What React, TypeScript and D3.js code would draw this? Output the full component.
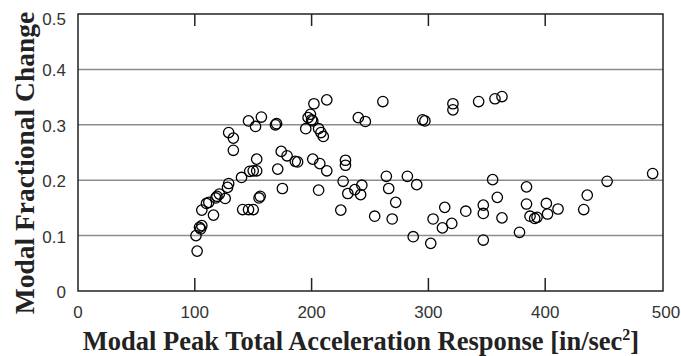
import { useEffect, useRef } from 'react';
import * as d3 from 'd3';

// Modal peak total acceleration [in/sec^2]
const accel: number[] = [
  102, 101, 104, 105, 106, 106, 110, 112, 116, 118, 119, 121, 126, 128, 129,
  129, 133, 133, 140, 141, 146, 150, 147, 150, 153, 153, 146, 152, 157, 155,
  156, 169, 170, 171, 174, 179, 175, 186, 188, 195, 197, 199, 200, 201, 202,
  206, 208, 210, 213, 201, 207, 213, 206, 225,
  227, 229, 229, 231, 237, 243, 242, 240, 246, 261, 254, 264, 266, 269, 272,
  282, 290, 287, 295, 297, 302, 304, 312, 314, 320, 321, 321, 332, 343, 347,
  347, 347, 355, 357, 359, 363, 363, 378, 384, 384, 387, 391, 393, 401, 402,
  411, 433, 436, 453, 492,
];

// Modal fractional change
const fracChange: number[] = [
  0.072, 0.1, 0.115, 0.112, 0.118, 0.146, 0.158, 0.16, 0.137, 0.168, 0.171, 0.175, 0.167, 0.187, 0.194,
  0.286, 0.276, 0.254, 0.205, 0.147, 0.147, 0.147, 0.216, 0.217, 0.217, 0.238, 0.307, 0.297, 0.314, 0.168,
  0.171, 0.3, 0.302, 0.22, 0.252, 0.244, 0.185, 0.234, 0.233, 0.293, 0.313, 0.319, 0.309, 0.307, 0.338,
  0.293, 0.286, 0.279, 0.345, 0.238, 0.23, 0.217, 0.182, 0.146,
  0.198, 0.236, 0.227, 0.176, 0.183, 0.191, 0.174, 0.313, 0.306, 0.342, 0.135, 0.207, 0.185, 0.13, 0.16,
  0.207, 0.192, 0.098, 0.309, 0.307, 0.086, 0.13, 0.114, 0.151, 0.122, 0.338, 0.327, 0.144, 0.342, 0.155,
  0.14, 0.092, 0.201, 0.347, 0.169, 0.351, 0.132, 0.106, 0.188, 0.157, 0.135, 0.131, 0.133, 0.158, 0.139,
  0.148, 0.147, 0.173, 0.198, 0.212,
];

const xTicks = [0, 100, 200, 300, 400, 500];
const yTicks = [0, 0.1, 0.2, 0.3, 0.4, 0.5];

const width = 681;
const height = 356;

export default function App() {
  const svgRef = useRef<SVGSVGElement>(null);

  useEffect(() => {
    if (!svgRef.current) return;
    const svg = d3.select(svgRef.current);
    svg.selectAll('*').remove();

    const left = 78, right = 663, top = 14, bottom = 291;

    const x = d3.scaleLinear().domain([0, 500]).range([left, 662]);
    const y = d3.scaleLinear().domain([0, 0.5]).range([bottom, top]);

    svg.append('rect').attr('width', width).attr('height', height).attr('fill', '#fff');

    // grid lines
    svg.append('g')
      .selectAll('line')
      .data(yTicks.filter(t => t > 0 && t < 0.5))
      .enter()
      .append('line')
      .attr('x1', left)
      .attr('x2', right)
      .attr('y1', d => y(d))
      .attr('y2', d => y(d))
      .attr('stroke', '#8c8c8c')
      .attr('stroke-width', 1.5);

    // inward ticks top & bottom
    const inner = xTicks.filter(t => t > 0 && t < 500);
    const tk = svg.append('g').attr('stroke', '#222').attr('stroke-width', 1.5);
    inner.forEach(t => {
      tk.append('line').attr('x1', x(t)).attr('x2', x(t)).attr('y1', bottom).attr('y2', bottom - 13);
      tk.append('line').attr('x1', x(t)).attr('x2', x(t)).attr('y1', top).attr('y2', top + 12);
    });

    // frame
    svg.append('rect')
      .attr('x', left)
      .attr('y', top)
      .attr('width', right - left)
      .attr('height', bottom - top)
      .attr('fill', 'none')
      .attr('stroke', '#222')
      .attr('stroke-width', 1.5);

    // points
    const pts = accel.map((a, i) => ({ a, f: fracChange[i] }));
    svg.append('g')
      .selectAll('circle')
      .data(pts)
      .enter()
      .append('circle')
      .attr('cx', d => x(d.a))
      .attr('cy', d => y(d.f))
      .attr('r', 5.2)
      .attr('fill', 'none')
      .attr('stroke', '#000')
      .attr('stroke-width', 1.3);

    // tick labels
    const font = '"Liberation Sans", Arial, sans-serif';
    svg.append('g')
      .selectAll('text')
      .data(yTicks)
      .enter()
      .append('text')
      .attr('x', 66)
      .attr('y', d => y(d) + (d === 0.5 ? 11 : 7))
      .attr('text-anchor', 'end')
      .style('font-family', font)
      .style('font-size', '17px')
      .attr('fill', '#333')
      .text(d => (d === 0 ? '0' : d3.format('.1f')(d)));

    svg.append('g')
      .selectAll('text')
      .data(xTicks)
      .enter()
      .append('text')
      .attr('x', d => x(d) + (d === 500 ? 4 : 0))
      .attr('y', 318)
      .attr('text-anchor', 'middle')
      .style('font-family', font)
      .style('font-size', '17px')
      .attr('fill', '#333')
      .text(d => String(d));

    // axis titles
    const serif = '"Liberation Serif", "Times New Roman", serif';
    const xt = svg.append('text')
      .attr('x', 361)
      .attr('y', 350)
      .attr('text-anchor', 'middle')
      .style('font-family', serif)
      .style('font-size', '26.5px')
      .style('font-weight', 'bold')
      .attr('fill', '#222');
    xt.append('tspan').text('Modal Peak Total Acceleration Response [in/sec');
    xt.append('tspan').attr('dy', -10).style('font-size', '16px').text('2');
    xt.append('tspan').attr('dy', 10).text(']');

    svg.append('text')
      .attr('transform', 'translate(34,163) rotate(-90)')
      .attr('text-anchor', 'middle')
      .style('font-family', serif)
      .style('font-size', '27.5px')
      .style('font-weight', 'bold')
      .attr('fill', '#222')
      .text('Modal Fractional Change');
  }, []);

  return (
    <svg
      ref={svgRef}
      width={width}
      height={height}
      style={{ position: 'absolute', left: 0, top: 0 }}
    />
  );
}
